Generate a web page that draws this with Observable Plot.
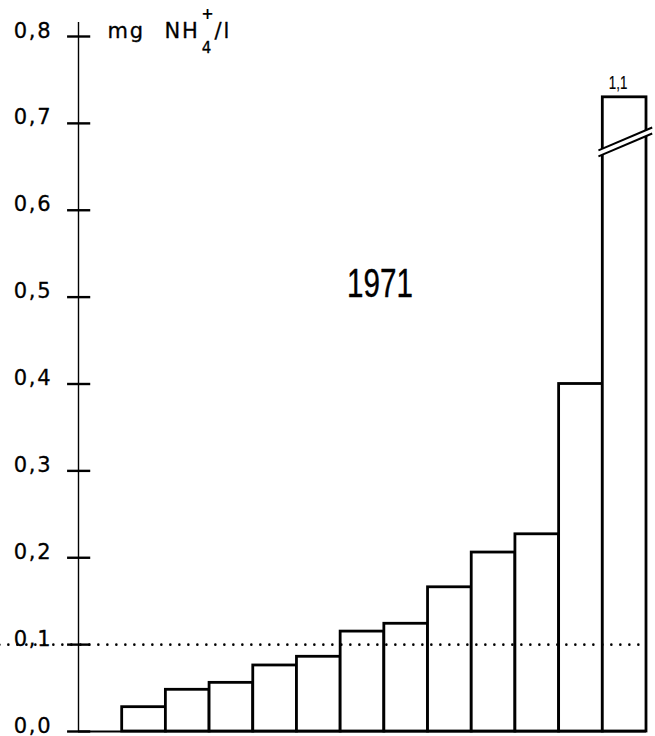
<!DOCTYPE html>
<html><head><meta charset="utf-8">
<script src="https://cdn.jsdelivr.net/npm/d3@7"></script>
<script src="https://cdn.jsdelivr.net/npm/@observablehq/plot@0.6"></script>
<style>
body{margin:0;background:#fff}
svg text{letter-spacing:1.8px}
g[font-family^="Liberation Sans"] text{letter-spacing:0}
</style></head><body><div id="chart"></div>
<script>
const year = "1971";
const unitMg = "mg";
const unitNH = "NH";
const unitSup = "+";
const unitSub = "4";
const unitTail = "/l";
const values = [0.028, 0.048, 0.056, 0.076, 0.086, 0.115, 0.124, 0.166, 0.206, 0.227, 0.40, 1.1];
const breakTop = 0.73;
const limit = 0.1;
const tickValues = [0, 0.1, 0.2, 0.3, 0.4, 0.5, 0.6, 0.7, 0.8];
const tickLabels = ["0,0", "0,1", "0,2", "0,3", "0,4", "0,5", "0,6", "0,7", "0,8"];

const bars = values.map((v, i) => ({x1: i + 1, x2: i + 2, v, shown: Math.min(v, breakTop)}));
const broken = bars.filter(d => d.v > breakTop);
const narrow = "Liberation Sans, sans-serif";
const ink = {fill: "black", stroke: "black", strokeWidth: 0.3};

const chart = Plot.plot({
  width: 655, height: 736,
  marginLeft: 78, marginRight: 9, marginTop: 36, marginBottom: 5,
  x: {domain: [0, 13], axis: null},
  y: {domain: [0, 0.8], axis: null},
  style: {fontFamily: "DejaVu Sans", fontSize: "21px", background: "white", overflow: "visible", color: "black"},
  marks: [
    Plot.rect(bars, {x1: "x1", x2: "x2", y1: 0, y2: "shown", fill: "white", stroke: "black", strokeWidth: 2.8}),
    Plot.ruleY([limit], {x1: -1.8, x2: 13, stroke: "black", strokeWidth: 2.6, strokeDasharray: "0,9", strokeLinecap: "round"}),
    Plot.ruleX([0], {y1: 0, y2: 0.816, stroke: "black", strokeWidth: 1.4}),
    Plot.ruleY([0], {x1: 0, x2: 13, stroke: "black", strokeWidth: 2.2}),
    Plot.ruleY(tickValues, {x1: -0.25, x2: 0.28, stroke: "black", strokeWidth: 2.4}),
    Plot.text(tickValues, {x: 0, y: d => d, text: (d, i) => tickLabels[i], textAnchor: "end", lineAnchor: "bottom", dx: -26, dy: 1, fontSize: 21, ...ink}),
    // axis break on the tall bar
    Plot.link(broken, {x1: d => d.x1 - 0.1, x2: d => d.x2 + 0.13, y1: breakTop - 0.068, y2: breakTop - 0.0417, stroke: "white", strokeWidth: 6, dy: -3}),
    Plot.link(broken, {x1: d => d.x1 - 0.1, x2: d => d.x2 + 0.13, y1: breakTop - 0.068, y2: breakTop - 0.0417, stroke: "black", strokeWidth: 2}),
    Plot.link(broken, {x1: d => d.x1 - 0.1, x2: d => d.x2 + 0.13, y1: breakTop - 0.068, y2: breakTop - 0.0417, stroke: "black", strokeWidth: 2, dy: -6}),
    Plot.text(broken, {x: d => (d.x1 + d.x2) / 2 - 0.15, y: "shown", text: d => String(d.v).replace(".", ","), lineAnchor: "bottom", dy: -8, fontFamily: narrow, fontSize: 18, fill: "black", stroke: "black", strokeWidth: 0.2}),
    Plot.text([year], {x: 6.9, y: 0.5, text: d => d, lineAnchor: "bottom", textAnchor: "middle", fontFamily: narrow, fontSize: 40, fill: "black", stroke: "black", strokeWidth: 0.4}),
    // unit label
    Plot.text([unitMg], {x: 0, y: 0.8, text: d => d, textAnchor: "start", lineAnchor: "bottom", dx: 29, dy: 1, fontSize: 21, ...ink}),
    Plot.text([unitNH], {x: 0, y: 0.8, text: d => d, textAnchor: "start", lineAnchor: "bottom", dx: 86, dy: 1, fontSize: 21, ...ink}),
    Plot.text([unitSup], {x: 0, y: 0.8, text: d => d, textAnchor: "middle", lineAnchor: "bottom", dx: 130, dy: -18, fontSize: 15, fontWeight: "bold", fill: "black"}),
    Plot.text([unitSub], {x: 0, y: 0.8, text: d => d, textAnchor: "middle", lineAnchor: "bottom", dx: 129, dy: 16, fontSize: 15, ...ink}),
    Plot.text([unitTail], {x: 0, y: 0.8, text: d => d, textAnchor: "start", lineAnchor: "bottom", dx: 136, dy: 1, fontSize: 21, ...ink})
  ]
});
// condense the narrow-lettered labels horizontally
d3.select(chart).selectAll('g[font-family^="Liberation Sans"] text').each(function () {
  const t = this.getAttribute("transform") || "";
  this.setAttribute("transform", t + " scale(0.74,1)");
});
document.getElementById("chart").appendChild(chart);
</script></body></html>
